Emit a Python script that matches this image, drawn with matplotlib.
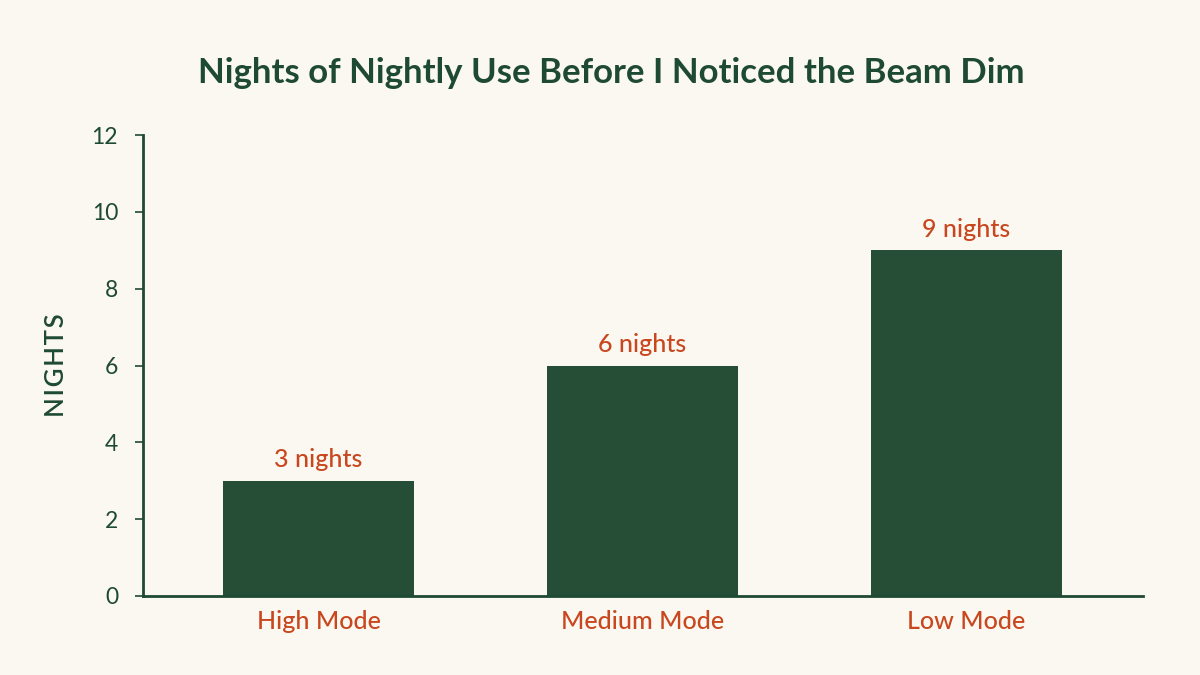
import matplotlib.pyplot as plt

modes = ["High Mode", "Medium Mode", "Low Mode"]
nights = [3, 6, 9]
value_labels = ["3 nights", "6 nights", "9 nights"]
y_ticks = [0, 2, 4, 6, 8, 10, 12]

bg = "#FBF8F1"
green = "#264D36"
dark = "#1F4A32"
orange = "#C8471E"

plt.rcParams['font.family'] = ['Lato', 'DejaVu Sans']

fig = plt.figure(figsize=(12, 6.75), dpi=100, facecolor=bg)
ax = fig.add_axes([143 / 1200, 1 - 596 / 675, 1000 / 1200, 461 / 675])
ax.set_facecolor(bg)

x = list(range(len(modes)))
ax.bar(x, nights, width=0.59, color=green, zorder=2)

# value labels above the bars
for xi, v, lab in zip(x, nights, value_labels):
    ax.text(xi, v + 0.25, lab, ha='center', va='bottom', fontsize=18,
            color=orange, fontweight='medium')

ax.set_xlim(-0.542, 2.545)
ax.set_ylim(0, 12)
ax.set_xticks(x)
ax.set_xticklabels(modes, fontsize=18, color=orange, fontweight='medium')
ax.set_yticks(y_ticks)
ax.tick_params(axis='x', length=0, pad=10)
ax.tick_params(axis='y', length=6, width=1.2, color=dark, labelcolor=dark,
               labelsize=16.5, pad=12)

for side in ['top', 'right']:
    ax.spines[side].set_visible(False)
for side in ['left', 'bottom']:
    ax.spines[side].set_color(dark)
    ax.spines[side].set_linewidth(2)

ax.set_ylabel("N\u200aI\u200aG\u200aH\u200aT\u200aS", fontsize=18.5, color=dark,
              fontweight='semibold', labelpad=16)

fig.text(611 / 1200, 1 - 73 / 675, "Nights of Nightly Use Before I Noticed the Beam Dim",
         ha='center', va='center', fontsize=25, fontweight='bold', color=dark)

fig.savefig("out.png", dpi=100, facecolor=bg)
